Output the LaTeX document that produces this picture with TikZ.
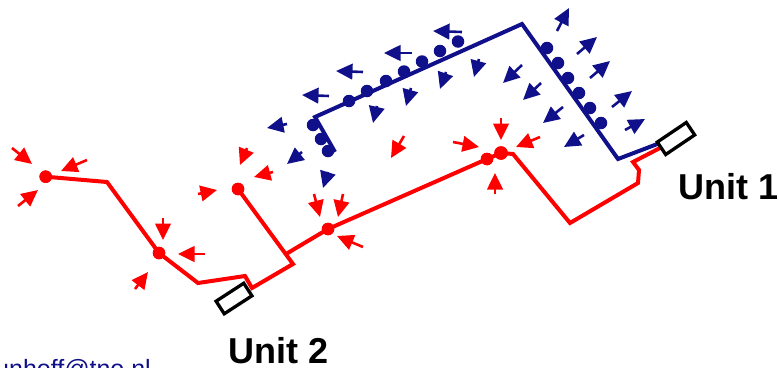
\documentclass[tikz,border=0pt]{standalone}
\usepackage{fontspec}
\setmainfont{Liberation Sans}
\usetikzlibrary{arrows.meta}
\definecolor{ublue}{RGB}{16,16,138}
\definecolor{ured}{RGB}{255,0,0}
\begin{document}
\begin{tikzpicture}[x=1pt,y=-1pt,
  redpipe/.style={draw=ured,line width=4pt},
  bluepipe/.style={draw=ublue,line width=4pt},
  reddot/.style={circle,fill=ured,inner sep=0pt,minimum size=12.5pt},
  bluedot/.style={circle,fill=ublue,inner sep=0pt,minimum size=12.5pt},
  redarrow/.style={draw=ured,line width=2.6pt,-{Triangle[length=16.5pt,width=15.5pt]}},
  bluearrow/.style={draw=ublue,line width=2.6pt,-{Triangle[length=16.5pt,width=15.5pt]}},
  unitbox/.style={draw=black,line width=3.3pt,fill=white,inner sep=0pt,minimum height=15pt},
  unitlabel/.style={font=\bfseries\fontsize{36}{36}\selectfont,anchor=base west,inner sep=0pt,text depth=0pt}]
\useasboundingbox (0,0) rectangle (779,367);

% pipe corners
\coordinate (a1) at (107,182);
\coordinate (a2) at (198,283);
\coordinate (a3) at (245,276);
\coordinate (a4) at (252,288);
\coordinate (a5) at (293,264);
\coordinate (tee) at (286,254);
\coordinate (c1) at (513,154);
\coordinate (c2) at (570,223);
\coordinate (c3) at (638,183);
\coordinate (c4) at (639,170);
\coordinate (c5) at (633,162);
\coordinate (c6) at (660,148);
\coordinate (b1) at (660,143);
\coordinate (b2) at (618,159);
\coordinate (b3) at (522,24);
\coordinate (b4) at (315,117);
\coordinate (b5) at (335,152);

% red measuring points
\node[reddot] (pA) at (45.7,176.7) {};
\node[reddot] (pB) at (159,253) {};
\node[reddot] (pC) at (238,189) {};
\node[reddot] (pD) at (328,229) {};
\node[reddot] (pE) at (487,159) {};
\node[reddot,minimum size=13.5pt] (pF) at (501,153) {};

% red pipe network (unit 2)
\draw[redpipe] (pA.center) -- (a1) -- (pB.center) -- (a2) -- (a3) -- (a4) -- (a5) -- (pC.center);
\draw[redpipe] (tee) -- (pD.center) -- (pE.center) -- (pF.center);
\draw[redpipe] (pF.center) -- (c1) -- (c2) -- (c3) -- (c4) -- (c5) -- (c6);

% blue pipe (unit 1)
\draw[bluepipe] (b1) -- (b2) -- (b3) -- (b4) -- (b5);

% redraw dots on top of the pipes
\foreach \p in {pA,pB,pC,pD,pE} \fill[ured] (\p) circle (6.25pt);
\fill[ured] (pF) circle (6.75pt);

% blue outlets
\foreach \x/\y [count=\i] in {349/101,367/91,386/81,404/71.5,422/61.5,440/51,458/41.5,
  313/125,321/139,328/151,
  547/48,558/63,568/78,579/93,590/108,601/123}
  \node[bluedot] (q\i) at (\x,\y) {};

% blue flow arrows
\foreach \tx/\ty/\hx/\hy in {
  462/32/433/31, 412/53/384/53, 363/72/336/71, 329/96/302/95,
  287/124/267/128, 302/152/287/164, 328/172/323/188,
  377/106/373/123, 411/88/406/106, 446/72/440/89, 479/59/474/77,
  522/65/503/83, 541/83/523/100, 563/107/543/123, 584/135/564/147,
  557/31/569/8, 577/54/597/37, 590/78/610/61, 612/107/632/91, 625/130/645/119}
  \draw[bluearrow] (\tx,\ty) -- (\hx,\hy);

% red flow arrows
\foreach \tx/\ty/\hx/\hy in {
  12/148/32/164, 87/160/61/171, 18/206/38/190,
  163/218/163/240, 205/254/178/254, 135/289/148/272,
  198/194/217/190, 247/148/240/165, 273/172/254/177,
  314/194/320/217, 343/194/338/217, 363/247/337/236,
  404/136/391/158, 453/142/479/147, 501/118/501/140,
  540/137/516/147, 495/194/495/173}
  \draw[redarrow] (\tx,\ty) -- (\hx,\hy);

% units
\node[unitbox,minimum width=33pt,rotate=33] (u2) at (234,298.5) {};
\node[unitbox,minimum width=35pt,rotate=34] (u1) at (676,138.5) {};
\node[unitlabel] (l1) at (678,199) {Unit 1};
\node[unitlabel] (l2) at (228,363) {Unit 2};

% contact address
\node[anchor=base west,inner sep=0pt,text=ublue,font=\fontsize{25}{25}\selectfont] (mail) at (-5,377) {unhoff@tno.nl};
\end{tikzpicture}
\end{document}
